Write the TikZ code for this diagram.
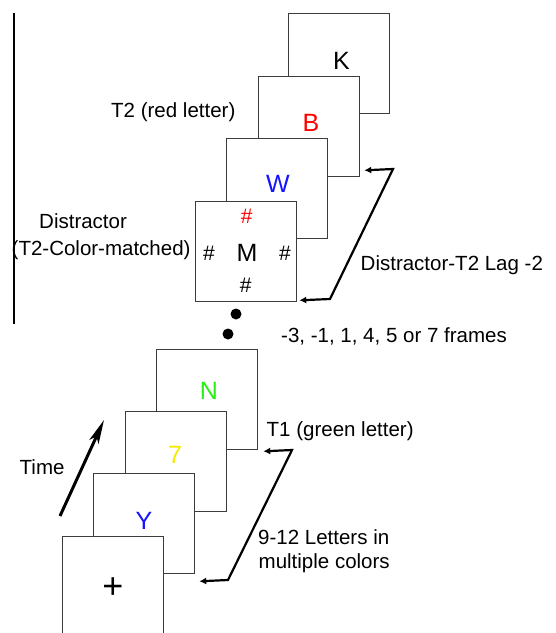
\documentclass[tikz,border=0pt]{standalone}
\usepackage{fontspec}
\setmainfont{Liberation Sans}
\usetikzlibrary{arrows.meta,calc}
\definecolor{tred}{RGB}{255,0,0}
\definecolor{tblue}{RGB}{20,20,255}
\definecolor{tgreen}{RGB}{40,240,20}
\definecolor{tyellow}{RGB}{245,235,0}
\definecolor{framegray}{RGB}{60,60,60}
\begin{document}
\begin{tikzpicture}[x=1pt,y=-1pt,
  frame/.style={rectangle,draw=framegray,line width=1.3pt,fill=white,
    minimum width=101pt,minimum height=100pt,inner sep=0pt,anchor=north west},
  glyph/.style={anchor=base,inner sep=0pt,font=\fontsize{25}{30}\selectfont},
  hash/.style={anchor=base,inner sep=0pt,font=\fontsize{21}{25}\selectfont},
  lbl/.style={anchor=base west,inner sep=0pt,font=\fontsize{20.5}{24}\selectfont},
  lagline/.style={line width=2.2pt,line join=miter,
    {Latex[length=7pt,width=7pt]}-{Latex[length=7pt,width=7pt]}},
  dotmark/.style={circle,fill=black,minimum size=11pt,inner sep=0pt}]
\useasboundingbox (0,0) rectangle (556,633);

% left rule
\draw[line width=1.4pt] (14,13) -- (14,324);

% upper stream: back to front
\node[frame] (fK) at (288,13) {};
\node[glyph] (lK) at (341.5,69) {K};
\node[frame] (fB) at (258,76) {};
\node[glyph,text=tred] (lB) at (311,131) {B};
\node[frame] (fW) at (226,138) {};
\node[glyph,text=tblue] (lW) at (278,192) {W};
\node[frame] (fM) at (195,201) {};
\node[glyph] (lM) at (247,261.5) {M};
\node[hash,text=tred] (hT) at (246.7,223.5) {\#};
\node[hash] (hL) at (209,260.5) {\#};
\node[hash] (hR) at (285,260.5) {\#};
\node[hash] (hB) at (245.7,292.5) {\#};

% ellipsis dots
\node[dotmark] (d1) at (236,314) {};
\node[dotmark] (d2) at (228,334) {};

% lower stream: back to front
\node[frame] (fN) at (156,349) {};
\node[glyph,text=tgreen] (lN) at (209,399) {N};
\node[frame] (f7) at (125,411) {};
\node[glyph,text=tyellow] (l7) at (175,463.5) {7};
\node[frame] (fY) at (93,473) {};
\node[glyph,text=tblue] (lY) at (144,529) {Y};
\node[frame] (fP) at (62,536) {};
\node[anchor=base,inner sep=0pt,font=\fontsize{36}{40}\selectfont] (lP) at (113,598) {+};

% lag brackets
\coordinate (lagA) at (393,169);
\coordinate (lagB) at (330,299);
\draw[lagline] ($(fB.south east)+(4,-7)$) -- (lagA) -- (lagB) -- ($(fM.south east)+(2,-2)$);
\coordinate (t1A) at (292,450);
\coordinate (t1B) at (228,580);
\draw[lagline] ($(fN.south east)+(5,1)$) -- (t1A) -- (t1B) -- ($(fY.south east)+(4,7)$);

% time arrow
\coordinate (timeS) at (60,516);
\coordinate (timeE) at (104,420);
\draw[line width=3pt,-{Stealth[length=24pt,width=10pt,inset=6pt]}] (timeS) -- (timeE);

% labels
\node[lbl] (tT2) at (111,117) {T2 (red letter)};
\node[lbl] (tDis1) at (39,228) {Distractor};
\node[lbl] (tDis2) at (11.5,255) {(T2-Color-matched)};
\node[lbl] (tLag) at (360.5,270) {Distractor-T2 Lag -2};
\node[lbl] (tFr) at (281,342) {-3, -1, 1, 4, 5 or 7 frames};
\node[lbl] (tT1) at (266.5,436) {T1 (green letter)};
\node[lbl] (tN1) at (258,544) {9-12 Letters in};
\node[lbl] (tN2) at (258.5,568) {multiple colors};
\node[lbl] (tTime) at (19.5,474) {Time};
\end{tikzpicture}
\end{document}
